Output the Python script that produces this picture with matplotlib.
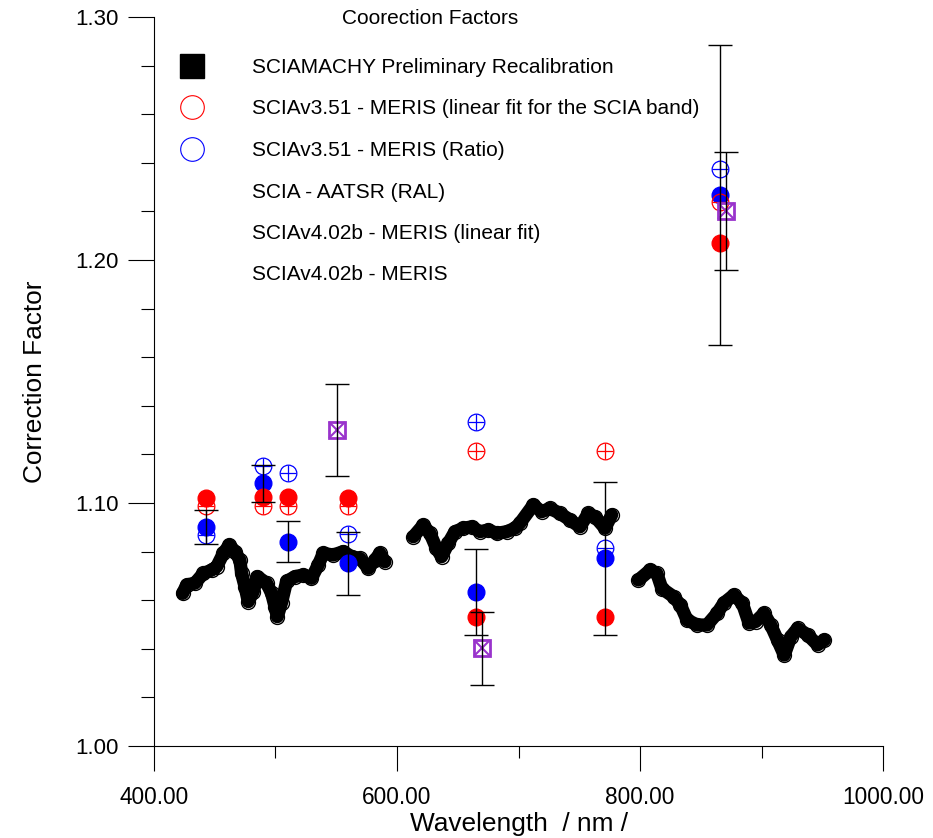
import numpy as np
import matplotlib
matplotlib.use("Agg")
from matplotlib import pyplot as plt
from matplotlib import font_manager
from matplotlib.lines import Line2D
from matplotlib.ticker import MultipleLocator, FormatStrFormatter

# SCIAMACHY preliminary recalibration curve, three pieces
seg1_wl = [423.6, 426.9, 433.7, 440.6, 447.5, 451.6, 457.1, 462.0, 466.7, 470.7, 472.1, 474.9,
           477.6, 481.7, 485.0, 492.7, 496.8, 499.6, 501.5, 505.0, 509.1, 516.0, 522.9, 529.6,
           535.2, 539.3, 547.5, 555.8, 562.6, 569.4, 576.4, 581.9, 585.9, 590.1]
seg1_cf = [1.0628, 1.0663, 1.0670, 1.0710, 1.0724, 1.0738, 1.0793, 1.0827, 1.0800, 1.0765, 1.0710, 1.0656,
           1.0594, 1.0635, 1.0697, 1.0670, 1.0628, 1.0573, 1.0532, 1.0590, 1.0677, 1.0697, 1.0704, 1.0690,
           1.0745, 1.0793, 1.0786, 1.0800, 1.0779, 1.0772, 1.0731, 1.0765, 1.0793, 1.0758]
seg2_wl = [613.4, 621.6, 627.2, 632.5, 636.7, 642.2, 647.7, 654.6, 661.5, 668.3, 675.2, 682.1,
           690.3, 697.1, 701.2, 712.2, 719.1, 725.9, 734.2, 742.4, 750.6, 757.5, 763.0, 771.2, 776.7]
seg2_cf = [1.0861, 1.0909, 1.0875, 1.0813, 1.0779, 1.0834, 1.0882, 1.0896, 1.0902, 1.0882, 1.0889, 1.0875,
           1.0882, 1.0896, 1.0917, 1.0992, 1.0964, 1.0978, 1.0957, 1.0930, 1.0902, 1.0957, 1.0943, 1.0896, 1.0951]
seg3_wl = [798.7, 808.4, 813.9, 818.0, 827.7, 833.3, 838.7, 847.0, 855.2, 863.5, 869.0, 877.2,
           884.2, 889.7, 895.2, 902.1, 907.6, 913.2, 918.7, 924.2, 929.7, 938.0, 946.2, 951.8]
seg3_cf = [1.0683, 1.0724, 1.0710, 1.0648, 1.0614, 1.0580, 1.0519, 1.0498, 1.0498, 1.0546, 1.0588, 1.0621,
           1.0588, 1.0506, 1.0512, 1.0546, 1.0498, 1.0436, 1.0374, 1.0450, 1.0484, 1.0457, 1.0416, 1.0436]

# MERIS comparison bands
meris_wl = [443, 490, 510, 560, 665, 771, 866]
v351_fit = [1.0988, 1.0988, 1.0988, 1.0988, 1.1215, 1.1215, 1.2240]
v351_ratio = [1.0868, 1.1153, 1.1125, 1.0871, 1.1335, 1.0813, 1.2373]
v402_fit = [1.1019, 1.1024, 1.1023, 1.1019, 1.0531, 1.0531, 1.2069]
v402 = [1.0902, 1.1081, 1.0841, 1.0752, 1.0635, 1.0772, 1.2267]
v402_err = [0.0070, 0.0076, 0.0083, 0.0130, 0.0177, 0.0316, 0.0616]

# SCIA - AATSR (RAL)
aatsr_wl = [551, 670, 871]
aatsr_cf = [1.1300, 1.0402, 1.2202]
aatsr_err = [0.0190, 0.0150, 0.0244]

labels = ["SCIAMACHY Preliminary Recalibration",
          "SCIAv3.51 - MERIS (linear fit for the SCIA band)",
          "SCIAv3.51 - MERIS (Ratio)",
          "SCIA - AATSR (RAL)",
          "SCIAv4.02b - MERIS (linear fit)",
          "SCIAv4.02b - MERIS"]

names = {f.name for f in font_manager.fontManager.ttflist}
if "Liberation Sans Narrow" in names:
    narrow, nscale = "Liberation Sans Narrow", 1.0
else:
    narrow, nscale = "Liberation Sans", 0.86
plt.rcParams["font.family"] = ["Liberation Sans", "DejaVu Sans"]

fig = plt.figure(figsize=(9.33, 8.38), dpi=100)
ax = fig.add_axes([154/933, 92/838, 729/933, 729/838])

for wl, cf in [(seg1_wl, seg1_cf), (seg2_wl, seg2_cf), (seg3_wl, seg3_cf)]:
    ax.plot(wl, cf, color="black", lw=9.5, solid_capstyle="round", zorder=1)
    ax.plot(wl, cf, "o", ms=10, mfc="none", mec="black", mew=1.0, zorder=1.5)

purple = "#9933cc"
ax.plot(meris_wl, v351_ratio, "o", ms=12, mfc="none", mec="blue", mew=0.9, zorder=2)
ax.plot(meris_wl, v351_ratio, "+", ms=12, mec="blue", mew=0.9, zorder=2)
ax.plot(meris_wl, v402, "o", ms=12, color="blue", mec="blue", zorder=3)
ax.plot(meris_wl, v351_fit, "o", ms=12, mfc="none", mec="red", mew=0.9, zorder=4)
ax.plot(meris_wl, v351_fit, "+", ms=12, mec="red", mew=0.9, zorder=4)
ax.plot(meris_wl, v402_fit, "o", ms=12, color="red", mec="red", zorder=5)
ax.plot(aatsr_wl, aatsr_cf, "s", ms=12, mfc="none", mec=purple, mew=2, zorder=6)
ax.plot(aatsr_wl, aatsr_cf, "x", ms=11, mec=purple, mew=1.5, zorder=6)

ax.errorbar(meris_wl, v402, yerr=v402_err, fmt="none", ecolor="black",
            elinewidth=1, capsize=8.6, capthick=1, zorder=7)
ax.errorbar(aatsr_wl, aatsr_cf, yerr=aatsr_err, fmt="none", ecolor="black",
            elinewidth=1, capsize=8.6, capthick=1, zorder=7)

ax.set_xlim(400, 1000)
ax.set_ylim(1.0, 1.3)
for s in ["top", "right"]:
    ax.spines[s].set_visible(False)
for s in ["left", "bottom"]:
    ax.spines[s].set_linewidth(0.8)

ax.xaxis.set_major_locator(MultipleLocator(200))
ax.xaxis.set_minor_locator(MultipleLocator(100))
ax.yaxis.set_major_locator(MultipleLocator(0.1))
ax.yaxis.set_minor_locator(MultipleLocator(0.02))
ax.xaxis.set_major_formatter(FormatStrFormatter("%.2f"))
ax.yaxis.set_major_formatter(FormatStrFormatter("%.2f"))
ax.tick_params(axis="both", which="both", direction="out", width=0.8)
ax.tick_params(axis="y", which="major", length=18.5, pad=7, labelsize=16)
ax.tick_params(axis="y", which="minor", length=9.3)
ax.tick_params(axis="x", which="major", length=18, pad=11, labelsize=19*nscale)
ax.tick_params(axis="x", which="minor", length=8.6)
for t in ax.get_xticklabels():
    t.set_fontfamily(narrow)

ax.set_xlabel("Wavelength  / nm /", fontsize=22*nscale, fontfamily=narrow, labelpad=2)
ax.set_ylabel("Correction Factor", fontsize=22*nscale, fontfamily=narrow, labelpad=20)

fig.text(430/933, 1 - 19/838, "Coorection Factors", ha="center", va="center", fontsize=15)

handles = [Line2D([], [], ls="none", marker="s", ms=17, color="black"),
           Line2D([], [], ls="none", marker="o", ms=17, mfc="none", mec="red", mew=0.8),
           Line2D([], [], ls="none", marker="o", ms=17, mfc="none", mec="blue", mew=0.8),
           Line2D([], [], ls="none"),
           Line2D([], [], ls="none"),
           Line2D([], [], ls="none")]
fig.legend(handles, labels, loc="upper left", bbox_to_anchor=(171/933, 1 - 58/838),
           frameon=False, fontsize=15, handlelength=2.0, handletextpad=1.9,
           labelspacing=1.08, borderpad=0, borderaxespad=0)

fig.savefig("out.png", dpi=100)
